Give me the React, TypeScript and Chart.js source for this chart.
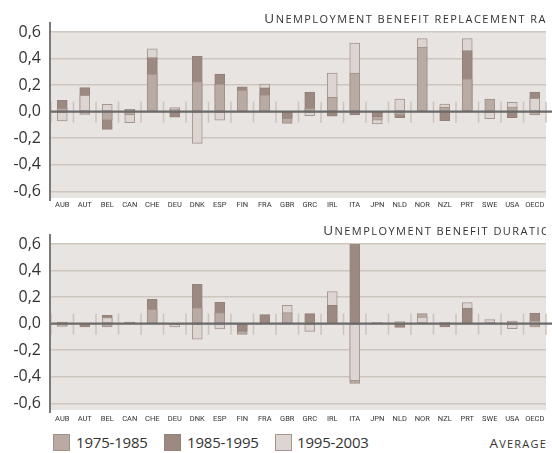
import React, { useEffect, useRef } from 'react';
import { Chart, registerables } from 'chart.js';
Chart.register(...registerables);

const categories = ['AUB','AUT','BEL','CAN','CHE','DEU','DNK','ESP','FIN','FRA','GBR','GRC','IRL','ITA','JPN','NLD','NOR','NZL','PRT','SWE','USA','OECD'];
const seriesNames = ['1975-1985', '1985-1995', '1995-2003'];
const yTickValues = [-0.6, -0.4, -0.2, 0, 0.2, 0.4, 0.6];

// Unemployment benefit replacement rate
const rr7585 = [0.026, -0.02, -0.063, -0.025, 0.283, 0.018, 0.227, 0.207, 0.162, 0.126, -0.088, 0.026, 0.108, 0.29, -0.063, -0.025, 0.487, 0.033, 0.247, 0.094, 0.035, -0.025];
const rr8595 = [0.086, 0.181, -0.133, 0.018, 0.408, -0.042, 0.416, 0.283, 0.187, 0.18, -0.05, 0.147, -0.033, -0.025, -0.037, -0.045, 0, -0.068, 0.461, 0, -0.045, 0.147];
const rr9503 = [-0.07, 0.124, 0.056, -0.083, 0.474, 0.03, -0.239, -0.063, 0, 0.207, 0, -0.03, 0.29, 0.517, -0.093, 0.094, 0.55, 0.058, 0.55, -0.052, 0.07, 0.101];

// Unemployment benefit duration
const du7585 = [-0.02, 0, -0.025, 0, 0.108, 0, 0.12, 0.083, -0.08, 0, 0.083, 0, 0, -0.45, 0.01, 0.015, 0.076, 0.01, 0, 0, 0.02, -0.025];
const du8595 = [0.012, -0.025, 0.063, 0.012, 0.184, 0, 0.297, 0.161, -0.058, 0.068, 0, 0.076, 0.138, 0.65, 0, -0.028, 0, -0.025, 0.118, 0, 0, 0.08];
const du9503 = [0, 0, 0.045, 0, 0, -0.025, -0.117, -0.04, 0, 0, 0.138, -0.058, 0.242, -0.43, 0, 0, 0.05, 0, 0.159, 0.03, -0.038, 0.017];

const fills = ['#b9aba4', '#9c8981', '#ddd5d2'];
const borders = ['#a09089', '#94817a', '#a5958f'];
const PLOT_BG = '#e8e4e1';
const GRID = '#cdc5c0';

function buildLayers(series: number[][]) {
  const layers: { v: number; s: number }[][] = [[], [], []];
  categories.forEach((_, i) => {
    const items = series
      .map((arr, s) => ({ v: arr[i], s }))
      .sort((a, b) => Math.abs(a.v) - Math.abs(b.v));
    items.forEach((it, k) => layers[k].push(it));
  });
  return layers;
}

const fmt = (v: number) => (Math.round(v * 10) / 10).toFixed(1).replace('.', ',').replace('-0,0', '0,0');

const decor = {
  id: 'decor',
  beforeDraw(chart: any) {
    const { ctx, chartArea: a } = chart;
    ctx.save();
    ctx.fillStyle = PLOT_BG;
    ctx.fillRect(a.left, a.top, a.right - a.left, a.bottom - a.top);
    ctx.restore();
  },
  beforeDatasetsDraw(chart: any) {
    const { ctx } = chart;
    const xs = chart.scales.x;
    const ys = chart.scales.y;
    const zy = ys.getPixelForValue(0);
    const half = (xs.getPixelForValue(1) - xs.getPixelForValue(0)) / 2;
    ctx.save();
    ctx.strokeStyle = '#cbc3be';
    ctx.lineWidth = 1.5;
    for (let i = 0; i <= categories.length; i++) {
      const x = i < categories.length ? xs.getPixelForValue(i) - half : xs.getPixelForValue(categories.length - 1) + half;
      ctx.beginPath();
      ctx.moveTo(x, zy - 10);
      ctx.lineTo(x, zy + 11);
      ctx.stroke();
    }
    ctx.restore();
  },
  afterDatasetsDraw(chart: any) {
    const { ctx, chartArea: a } = chart;
    const zy = chart.scales.y.getPixelForValue(0);
    ctx.save();
    ctx.strokeStyle = '#6b6b6b';
    ctx.lineWidth = 2.2;
    ctx.beginPath();
    ctx.moveTo(a.left, zy);
    ctx.lineTo(chart.width, zy);
    ctx.stroke();
    ctx.strokeStyle = '#7a7a7a';
    ctx.lineWidth = 2;
    ctx.beginPath();
    ctx.moveTo(a.left - 1, a.top - 10);
    ctx.lineTo(a.left - 1, a.bottom + 3);
    ctx.stroke();
    ctx.restore();
  },
};

function makeConfig(series: number[][], xHeight: number, xPad: number): any {
  const layers = buildLayers(series);
  return {
    type: 'bar',
    data: {
      labels: categories,
      datasets: layers.map((L, k) => ({
        label: 'layer' + k,
        data: L.map((o) => o.v),
        backgroundColor: L.map((o) => fills[o.s]),
        borderColor: L.map((o) => borders[o.s]),
        borderWidth: 1,
        borderSkipped: false,
        grouped: false,
        order: k,
        barThickness: 10,
      })),
    },
    options: {
      responsive: false,
      animation: false,
      layout: { padding: { top: 32, right: 6, left: 0, bottom: 0 } },
      plugins: { legend: { display: false }, tooltip: { enabled: false }, title: { display: false } },
      scales: {
        x: {
          grid: { display: false, drawTicks: false },
          border: { display: false },
          ticks: { font: { family: 'Roboto', size: 7.5 }, color: '#333', padding: xPad, maxRotation: 0, autoSkip: false },
          afterFit: (s: any) => { s.height = xHeight; s.paddingLeft = 0; s.paddingRight = 0; },
        },
        y: {
          min: -0.65,
          max: 0.6,
          afterBuildTicks: (s: any) => { s.ticks = yTickValues.map((v) => ({ value: v })); },
          grid: { color: GRID, lineWidth: 1.5, drawTicks: false },
          border: { display: false },
          ticks: { padding: 10, font: { family: 'Open Sans', size: 16 }, color: '#333', callback: (v: any) => fmt(Number(v)) },
          afterFit: (s: any) => { s.width = 51; s.paddingTop = 0; s.paddingBottom = 0; },
        },
      },
    },
    plugins: [decor],
  };
}

const capStyle: React.CSSProperties = {
  position: 'absolute',
  whiteSpace: 'nowrap',
  color: '#333',
  lineHeight: '16px',
  letterSpacing: 1.45,
};
const bigCap: React.CSSProperties = { fontSize: 13.5 };
const smallCap: React.CSSProperties = { fontSize: 11, textTransform: 'uppercase' };

export default function App() {
  const r1 = useRef<HTMLCanvasElement>(null);
  const r2 = useRef<HTMLCanvasElement>(null);
  useEffect(() => {
    const c1 = new Chart(r1.current as HTMLCanvasElement, makeConfig([rr7585, rr8595, rr9503], 14, 3));
    const c2 = new Chart(r2.current as HTMLCanvasElement, makeConfig([du7585, du8595, du9503], 15, 5));
    return () => { c1.destroy(); c2.destroy(); };
  }, []);
  const legendX = [[53, 76], [164, 187], [275, 297]];
  return (
    <div style={{ position: 'fixed', left: 0, top: 0, width: 552, height: 453, background: '#fff', overflow: 'hidden', fontFamily: '"Open Sans", sans-serif' }}>
      <canvas ref={r1} width={552} height={212} style={{ position: 'absolute', left: 0, top: 0, width: 552, height: 212 }} />
      <canvas ref={r2} width={552} height={213} style={{ position: 'absolute', left: 0, top: 212, width: 552, height: 213 }} />
      <div style={{ position: 'absolute', left: 200, width: 346, top: 9, height: 18, overflow: 'hidden' }}>
        <div style={{ ...capStyle, right: -1, top: 0 }}>
          <span style={bigCap}>U</span><span style={smallCap}>nemployment benefit replacement ra</span>
        </div>
      </div>
      <div style={{ position: 'absolute', left: 250, width: 296, top: 221, height: 18, overflow: 'hidden' }}>
        <div style={{ ...capStyle, right: -5, top: 0 }}>
          <span style={bigCap}>U</span><span style={smallCap}>nemployment benefit duratio</span>
        </div>
      </div>
      {seriesNames.map((n, i) => (
        <React.Fragment key={n}>
          <div style={{ position: 'absolute', left: legendX[i][0], top: 434, width: 15, height: 15, background: fills[i], border: '1px solid ' + borders[i] }} />
          <div style={{ position: 'absolute', left: legendX[i][1], top: 432, fontSize: 15, lineHeight: '20px', color: '#333', letterSpacing: -0.2 }}>{n}</div>
        </React.Fragment>
      ))}
      <div style={{ ...capStyle, letterSpacing: 1.2, right: 5, top: 434 }}>
        <span style={bigCap}>A</span><span style={smallCap}>verage</span>
      </div>
    </div>
  );
}
